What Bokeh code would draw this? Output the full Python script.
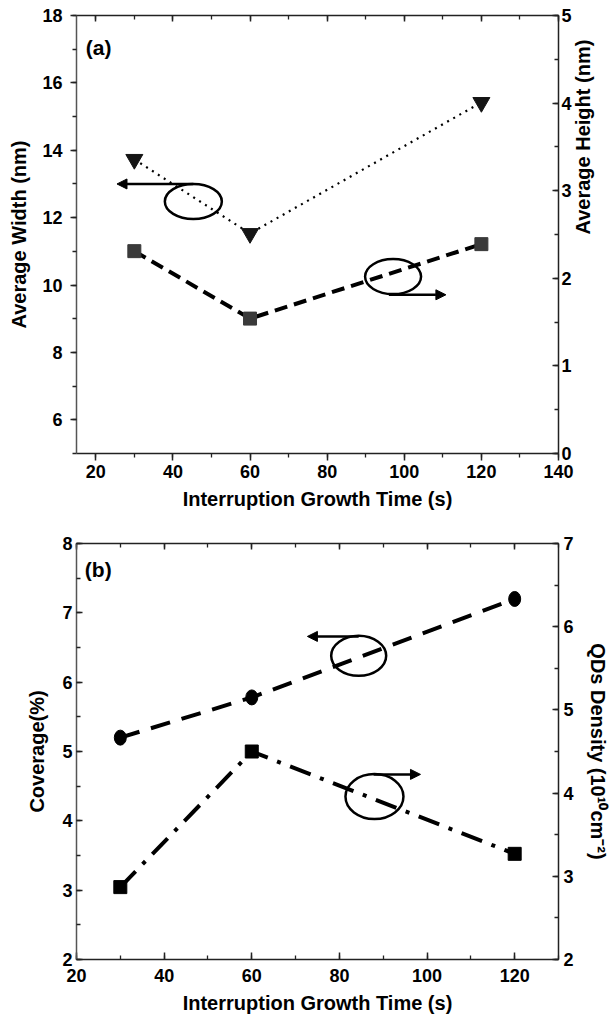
import math
from bokeh.plotting import figure
from bokeh.models import Range1d, LinearAxis, SingleIntervalTicker, Label, Arrow, NormalHead
from bokeh.layouts import column
from bokeh.embed import file_html
from bokeh.resources import INLINE

# ---------------- data ----------------
time_a = [30, 60, 120]
avg_width = [13.73, 11.53, 15.42]      # nm, left axis (triangles)
avg_height = [2.31, 1.54, 2.39]        # nm, right axis (squares)

time_b = [30, 60, 120]
coverage = [5.2, 5.78, 7.2]            # %, left axis (circles)
density = [2.87, 4.5, 3.27]            # 1e10 cm^-2, right axis (squares)

x_label = "Interruption Growth Time (s)"
ylab_a_left = "Average Width (nm)"
ylab_a_right = "Average Height (nm)"
ylab_b_left = "Coverage(%)"
ylab_b_right = "QDs Density (10\u00b9\u2070cm\u207b\u00b2)"

# annotation anchors (ellipse centres / arrow ends)
ell_a_x = [45.3, 97.1]
ell_a_y = [12.48, 10.25]
ell_b_x = [84.4, 88.0]
ell_b_y = [6.38, 4.35]

FONT = "Liberation Sans"
AX_COL = "#222222"


def style_axis(ax, tin, tout, mtin, mtout, standoff=6, label_standoff=8):
    ax.axis_line_color = AX_COL
    ax.axis_line_width = 1.5
    ax.major_tick_line_color = AX_COL
    ax.major_tick_line_width = 1.5
    ax.minor_tick_line_color = AX_COL
    ax.minor_tick_line_width = 1.3
    ax.major_tick_in = tin
    ax.major_tick_out = tout
    ax.minor_tick_in = mtin
    ax.minor_tick_out = mtout
    ax.major_label_text_font = FONT
    ax.major_label_text_font_style = "bold"
    ax.major_label_text_font_size = "18px"
    ax.major_label_text_color = "black"
    ax.major_label_standoff = standoff
    ax.axis_label_text_font = FONT
    ax.axis_label_text_font_style = "bold"
    ax.axis_label_text_font_size = "20px"
    ax.axis_label_text_color = "black"
    ax.axis_label_standoff = label_standoff


def hide_labels(ax, ticks):
    ax.major_label_overrides = {t: "" for t in ticks}
    ax.major_label_text_font_size = "0px"
    ax.major_label_standoff = 0


# ---------------- panel (a) ----------------
p1 = figure(width=612, height=528, x_range=Range1d(15, 140), y_range=Range1d(5, 18),
            x_axis_type=None, y_axis_type=None, output_backend="svg",
            toolbar_location=None, min_border_left=76, min_border_right=53,
            min_border_top=15, min_border_bottom=75)
p1.extra_y_ranges = {"h": Range1d(0, 5)}
p1.outline_line_color = None

bx = LinearAxis(ticker=SingleIntervalTicker(interval=20, num_minor_ticks=2), axis_label=x_label)
style_axis(bx, 0, 7, 0, 4, standoff=4, label_standoff=7)
p1.add_layout(bx, "below")

tx = LinearAxis(ticker=SingleIntervalTicker(interval=20, num_minor_ticks=2))
style_axis(tx, 6, 0, 4, 0)
hide_labels(tx, list(range(0, 161, 20)))
p1.add_layout(tx, "above")

ly = LinearAxis(ticker=SingleIntervalTicker(interval=2, num_minor_ticks=2), axis_label=ylab_a_left)
style_axis(ly, 0, 6, 0, 4, standoff=8, label_standoff=9)
ly.axis_line_color = "#555555"
p1.add_layout(ly, "left")

ry = LinearAxis(y_range_name="h", ticker=SingleIntervalTicker(interval=1, num_minor_ticks=2),
                axis_label=ylab_a_right)
style_axis(ry, 6, 0, 4, 0, standoff=3, label_standoff=8)
if "axis_label_orientation" in ry.properties():
    ry.axis_label_orientation = math.pi / 2
p1.add_layout(ry, "right")

p1.line(time_a, avg_width, line_dash="2 5", line_width=2.2, line_color="black")
p1.scatter(time_a, avg_width, marker="inverted_triangle", size=17,
           fill_color="#151515", line_color="#151515")
p1.line(time_a, avg_height, y_range_name="h", line_dash="13 7", line_width=4, line_color="black")
p1.scatter(time_a, avg_height, y_range_name="h", marker="square", size=13,
           fill_color="#3a3a3a", line_color="#3a3a3a")

p1.ellipse(x=ell_a_x, y=ell_a_y, width=[57, 56], height=[35, 35],
           width_units="screen", height_units="screen",
           fill_color=None, line_color="black", line_width=2.5)
p1.add_layout(Arrow(end=NormalHead(size=10, fill_color="black", line_color="black"),
                    x_start=45.3, y_start=13.0, x_end=25.5, y_end=13.0,
                    line_width=2.5, line_color="black"))
p1.add_layout(Arrow(end=NormalHead(size=10, fill_color="black", line_color="black"),
                    x_start=96.0, y_start=9.71, x_end=110.8, y_end=9.71,
                    line_width=2.5, line_color="black"))

p1.add_layout(Label(x=17.4, y=17.4, text="(a)", text_font=FONT, text_font_style="bold",
                    text_font_size="21px", text_color="black",
                    text_baseline="top", text_align="left"))

# ---------------- panel (b) ----------------
p2 = figure(width=612, height=491, x_range=Range1d(20, 130), y_range=Range1d(2, 8),
            x_axis_type=None, y_axis_type=None, output_backend="svg",
            toolbar_location=None, min_border_left=76, min_border_right=54,
            min_border_top=15, min_border_bottom=60)
p2.extra_y_ranges = {"d": Range1d(2, 7)}
p2.outline_line_color = None

bx2 = LinearAxis(ticker=SingleIntervalTicker(interval=20, num_minor_ticks=2), axis_label=x_label)
style_axis(bx2, 7, 0, 4, 0, standoff=9, label_standoff=7)
p2.add_layout(bx2, "below")

tx2 = LinearAxis(ticker=SingleIntervalTicker(interval=20, num_minor_ticks=2))
style_axis(tx2, 6, 0, 4, 0)
hide_labels(tx2, list(range(0, 161, 20)))
p2.add_layout(tx2, "above")

ly2 = LinearAxis(ticker=SingleIntervalTicker(interval=1, num_minor_ticks=2), axis_label=ylab_b_left)
style_axis(ly2, 6, 0, 4, 0, standoff=4, label_standoff=11)
ly2.axis_line_color = "#555555"
p2.add_layout(ly2, "left")

ry2 = LinearAxis(y_range_name="d", ticker=SingleIntervalTicker(interval=1, num_minor_ticks=2),
                 axis_label=ylab_b_right)
style_axis(ry2, 6, 0, 4, 0, standoff=5, label_standoff=10)
p2.add_layout(ry2, "right")

p2.line(time_b, coverage, line_dash="20 12", line_width=4, line_color="black")
p2.ellipse(x=time_b, y=coverage, width=12, height=15, width_units="screen",
           height_units="screen", fill_color="black", line_color="black")
p2.line(time_b, density, y_range_name="d", line_dash="22 10 4 10", line_width=4, line_color="black")
p2.scatter(time_b, density, y_range_name="d", marker="square", size=13,
           fill_color="black", line_color="black")

p2.ellipse(x=ell_b_x, y=ell_b_y, width=[55, 58], height=[40, 45],
           width_units="screen", height_units="screen",
           fill_color=None, line_color="black", line_width=2.5)
p2.add_layout(Arrow(end=NormalHead(size=10, fill_color="black", line_color="black"),
                    x_start=84.4, y_start=6.66, x_end=72.7, y_end=6.66,
                    line_width=2.5, line_color="black"))
p2.add_layout(Arrow(end=NormalHead(size=10, fill_color="black", line_color="black"),
                    x_start=87.8, y_start=4.67, x_end=98.5, y_end=4.67,
                    line_width=2.5, line_color="black"))

p2.add_layout(Label(x=21.9, y=7.79, text="(b)", text_font=FONT, text_font_style="bold",
                    text_font_size="21px", text_color="black",
                    text_baseline="top", text_align="left"))

layout = column(p1, p2, spacing=0)
open("out.html", "w").write(file_html(layout, INLINE))
